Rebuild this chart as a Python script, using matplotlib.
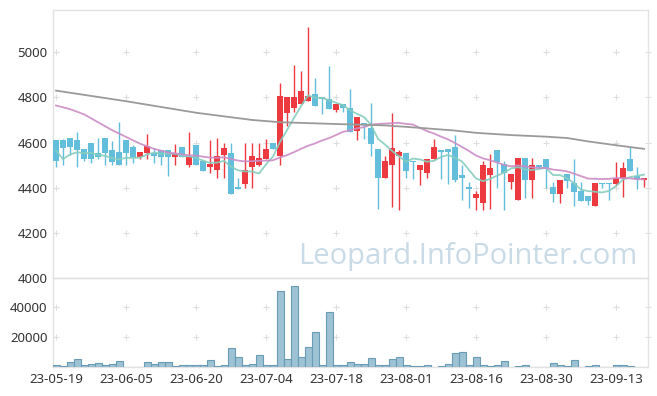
import matplotlib
matplotlib.use('Agg')
import matplotlib.pyplot as plt
import numpy as np
import pandas as pd

# ---------------- data ----------------
dates = ['23-05-19', '23-05-22', '23-05-23', '23-05-24', '23-05-25', '23-05-26',
         '23-05-30', '23-05-31', '23-06-01', '23-06-02', '23-06-05', '23-06-07',
         '23-06-08', '23-06-09', '23-06-12', '23-06-13', '23-06-14', '23-06-15',
         '23-06-16', '23-06-19', '23-06-20', '23-06-21', '23-06-22', '23-06-23',
         '23-06-26', '23-06-27', '23-06-28', '23-06-29', '23-06-30', '23-07-03',
         '23-07-04', '23-07-05', '23-07-06', '23-07-07', '23-07-10', '23-07-11',
         '23-07-12', '23-07-13', '23-07-14', '23-07-17', '23-07-18', '23-07-19',
         '23-07-20', '23-07-21', '23-07-24', '23-07-25', '23-07-26', '23-07-27',
         '23-07-28', '23-07-31', '23-08-01', '23-08-02', '23-08-03', '23-08-04',
         '23-08-07', '23-08-08', '23-08-09', '23-08-10', '23-08-11', '23-08-14',
         '23-08-16', '23-08-17', '23-08-18', '23-08-21', '23-08-22', '23-08-23',
         '23-08-24', '23-08-25', '23-08-28', '23-08-29', '23-08-30', '23-08-31',
         '23-09-01', '23-09-04', '23-09-05', '23-09-06', '23-09-07', '23-09-08',
         '23-09-11', '23-09-12', '23-09-13', '23-09-14', '23-09-15', '23-09-18',
         '23-09-19']

opens = [4610, 4610, 4620, 4610, 4570, 4600, 4555, 4620, 4565, 4560,
         4610, 4580, 4535, 4555, 4555, 4565, 4565, 4535, 4580, 4500,
         4590, 4520, 4490, 4480, 4545, 4555, 4405, 4415, 4490, 4500,
         4525, 4600, 4540, 4730, 4755, 4770, 4785, 4815, 4800, 4795,
         4745, 4770, 4755, 4650, 4685, 4665, 4570, 4445, 4500, 4540,
         4555, 4520, 4480, 4465, 4525, 4565, 4570, 4580, 4455, 4405,
         4355, 4330, 4455, 4565, 4505, 4425, 4345, 4530, 4435, 4500,
         4525, 4405, 4370, 4460, 4420, 4385, 4365, 4320, 4420, 4420,
         4415, 4445, 4525, 4450, 4435]
highs = [4610, 4615, 4620, 4645, 4570, 4600, 4620, 4620, 4605, 4690,
         4610, 4590, 4560, 4640, 4575, 4565, 4565, 4595, 4580, 4645,
         4590, 4520, 4610, 4620, 4600, 4600, 4445, 4600, 4600, 4600,
         4615, 4600, 4865, 4800, 4945, 4915, 5110, 4885, 4800, 4940,
         4770, 4770, 4835, 4715, 4685, 4775, 4570, 4540, 4730, 4565,
         4555, 4520, 4500, 4525, 4615, 4565, 4570, 4635, 4500, 4425,
         4385, 4520, 4550, 4565, 4520, 4460, 4530, 4530, 4530, 4500,
         4525, 4425, 4435, 4460, 4525, 4425, 4365, 4420, 4420, 4420,
         4515, 4515, 4580, 4490, 4445]
lows = [4490, 4500, 4545, 4490, 4520, 4510, 4525, 4500, 4500, 4500,
        4500, 4510, 4525, 4525, 4510, 4500, 4450, 4500, 4535, 4490,
        4500, 4475, 4465, 4445, 4445, 4370, 4395, 4400, 4400, 4495,
        4525, 4570, 4500, 4675, 4735, 4770, 4785, 4760, 4725, 4750,
        4735, 4735, 4645, 4610, 4615, 4540, 4305, 4445, 4315, 4300,
        4445, 4440, 4410, 4445, 4525, 4440, 4415, 4425, 4345, 4310,
        4300, 4300, 4305, 4400, 4300, 4395, 4345, 4355, 4355, 4485,
        4400, 4335, 4330, 4400, 4320, 4340, 4325, 4320, 4400, 4345,
        4410, 4360, 4475, 4395, 4405]
closes = [4520, 4575, 4580, 4565, 4525, 4525, 4535, 4555, 4515, 4500,
          4555, 4535, 4560, 4585, 4540, 4535, 4535, 4555, 4535, 4535,
          4500, 4475, 4505, 4540, 4575, 4370, 4395, 4480, 4540, 4530,
          4570, 4570, 4805, 4800, 4800, 4830, 4805, 4760, 4795, 4750,
          4770, 4755, 4645, 4715, 4680, 4595, 4445, 4520, 4575, 4560,
          4475, 4515, 4500, 4525, 4580, 4560, 4560, 4435, 4445, 4395,
          4370, 4500, 4485, 4515, 4465, 4460, 4530, 4435, 4500, 4490,
          4485, 4370, 4435, 4430, 4380, 4340, 4340, 4420, 4415, 4415,
          4445, 4485, 4475, 4440, 4445]
volumes = [1600, 500, 3600, 5600, 1200, 2000, 2900, 1600, 2300, 4300,
           300, 300, 300, 3600, 2300, 3600, 3600, 500, 1200, 1600,
           1200, 1600, 5000, 500, 1600, 13000, 7000, 1600, 2300, 8300,
           1600, 1600, 50800, 5600, 54100, 7000, 13700, 23800, 1600, 36600,
           1600, 1600, 3600, 2300, 2300, 6300, 1200, 1200, 5600, 7000,
           1600, 500, 500, 1600, 100, 500, 2300, 9700, 10300, 1200,
           7000, 1200, 500, 1600, 4300, 100, 500, 1200, 100, 100,
           100, 2900, 1200, 500, 5000, 100, 500, 1200, 100, 100,
           1200, 1600, 500, 100, 100]

ma5_head = [4564, 4527, 4547, 4557]
ma20_head_dates = ['23-05-19', '23-05-23', '23-05-25', '23-05-30', '23-06-01',
                   '23-06-05', '23-06-08', '23-06-12', '23-06-14', '23-06-16']
ma20_head_vals = [4764, 4748, 4725, 4690, 4655, 4625, 4595, 4572, 4556, 4548]
ma120_dates = ['23-05-19', '23-06-05', '23-06-20', '23-06-30', '23-07-06',
               '23-07-18', '23-07-27', '23-08-03', '23-08-10', '23-08-16',
               '23-08-23', '23-08-30', '23-09-04', '23-09-07', '23-09-13',
               '23-09-19']
ma120_vals = [4830, 4783, 4732, 4700, 4690, 4682, 4676, 4665, 4653, 4643,
              4633, 4626, 4620, 4605, 4588, 4572]

tick_dates = ['23-05-19', '23-06-05', '23-06-20', '23-07-04', '23-07-18',
              '23-08-01', '23-08-16', '23-08-30', '23-09-13']
price_ticks = [4000, 4200, 4400, 4600, 4800, 5000]
vol_ticks = [20000, 40000]

# ---------------- style ----------------
RED = '#ec3a40'
BLUE = '#62bedb'
MA5_C = '#86cdbf'
MA20_C = '#cc8cc6'
MA120_C = '#9a9a9a'
SPINE = '#e3e3e3'
TXT = '#333333'
CROSS = '#dedede'

plt.rcParams['font.family'] = ['Noto Sans', 'DejaVu Sans']

W, H = 657, 396
fig = plt.figure(figsize=(W / 100, H / 100), dpi=100)
x0, x1 = 53 / W, 648 / W
ax = fig.add_axes([x0, 1 - 278 / H, x1 - x0, (278 - 10) / H])
axv = fig.add_axes([x0, 1 - 367 / H, x1 - x0, (367 - 278) / H], sharex=ax)

idx = np.arange(len(dates))
pos = {d: i for i, d in enumerate(dates)}
o = np.array(opens); c = np.array(closes)
h = np.array(highs); l = np.array(lows)
up = c >= o
cols = np.where(up, RED, BLUE)

# wicks
ax.vlines(idx, l, h, colors=cols, linewidth=1.0, zorder=3)
# bodies
body_bot = np.minimum(o, c)
body_h = np.maximum(np.abs(c - o), 4)
ax.bar(idx, body_h, bottom=body_bot, width=0.72, color=cols, linewidth=0, zorder=4)

# moving averages
cs = pd.Series(closes, dtype=float)
ma5 = cs.rolling(5).mean().to_numpy()
ma5[:4] = ma5_head
ax.plot(idx, ma5, color=MA5_C, lw=1.3, alpha=0.9, zorder=5)

ma20 = cs.rolling(20).mean().to_numpy()
x20 = [pos[d] for d in ma20_head_dates] + list(idx[19:])
y20 = list(ma20_head_vals) + list(ma20[19:])
ax.plot(x20, y20, color=MA20_C, lw=1.3, alpha=0.9, zorder=5)

ax.plot([pos[d] for d in ma120_dates], ma120_vals, color=MA120_C, lw=1.3, zorder=5)

# volume
axv.bar(idx, volumes, width=1.0, color='#9cc2d3', edgecolor='#6a9db5',
        linewidth=0.8, zorder=3)

# axes cosmetics
xlo, xhi = -0.43, 84.57
ax.set_xlim(xlo, xhi)
ax.set_ylim(4000, 5187)
axv.set_ylim(0, 59700)

tick_pos = [pos[d] for d in tick_dates]
for a in (ax, axv):
    for s in a.spines.values():
        s.set_color(SPINE)
        s.set_linewidth(1.0)
    a.tick_params(length=0, colors=TXT, labelsize=9.5)
    a.set_facecolor('white')

ax.set_yticks(price_ticks)
ax.set_yticklabels([str(v) for v in price_ticks])
ax.tick_params(axis='x', labelbottom=False)
ax.tick_params(axis='y', pad=4)
axv.set_yticks(vol_ticks)
axv.set_yticklabels([str(v) for v in vol_ticks])
axv.tick_params(axis='y', pad=4)
axv.set_xticks(tick_pos)
axv.set_xticklabels(tick_dates)
axv.tick_params(axis='x', pad=4)

# grid crosses
gx = tick_pos + [xhi]
for a, ys in ((ax, price_ticks[1:]), (axv, vol_ticks)):
    X, Y = np.meshgrid(gx, ys)
    a.plot(X.ravel(), Y.ravel(), ls='none', marker='+', ms=4.5, mew=0.8,
           color=CROSS, zorder=1, clip_on=False)

# watermark
fig.text(468 / W, 1 - 264 / H, 'Leopard.InfoPointer.com', ha='center',
         va='baseline', fontsize=21, color='#c8dbe7', family=['Open Sans', 'DejaVu Sans'],
         zorder=0)
ax.set_zorder(2)
ax.patch.set_alpha(0)

fig.savefig('out.png', dpi=100)
